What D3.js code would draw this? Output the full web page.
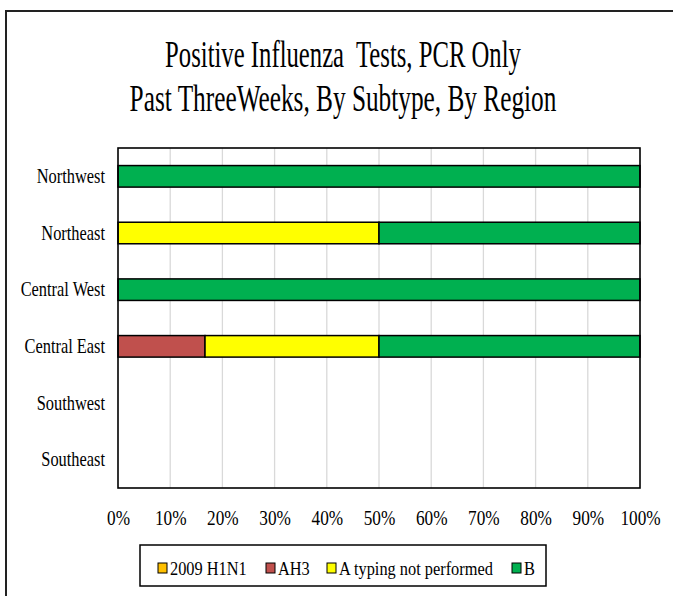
<!DOCTYPE html>
<html>
<head>
<meta charset="utf-8">
<script src="https://cdn.jsdelivr.net/npm/d3@7"></script>
<style>
  body { margin: 0; background: #fff; }
  text { font-family: "Liberation Serif", "Times New Roman", serif; fill: #000; }
</style>
</head>
<body>
<svg id="chart"></svg>
<script>
// data (percent of positive tests)
const regions = ["Northwest", "Northeast", "Central West", "Central East", "Southwest", "Southeast"];
const subtypes = ["2009 H1N1", "AH3", "A typing not performed", "B"];
const colors = ["#FFC000", "#C0504D", "#FFFF00", "#00B050"];
const h1n1 = [0, 0, 0, 0, 0, 0];
const ah3 = [0, 0, 0, 0.1667, 0, 0];
const aNotTyped = [0, 0.5, 0, 0.3333, 0, 0];
const fluB = [1, 0.5, 1, 0.5, 0, 0];
const xTicks = [0, 0.1, 0.2, 0.3, 0.4, 0.5, 0.6, 0.7, 0.8, 0.9, 1];
const titleLines = ["Positive Influenza  Tests, PCR Only", "Past ThreeWeeks, By Subtype, By Region"];

const width = 673, height = 596;
const margin = { top: 148, right: 33, bottom: 108, left: 118 };

const svg = d3.select("#chart").attr("width", width).attr("height", height);

// squeeze text horizontally, the original font is a narrow Times
function condense(sel, k) {
  sel.each(function () {
    const w = this.getComputedTextLength();
    d3.select(this).attr("textLength", w * k).attr("lengthAdjust", "spacingAndGlyphs");
  });
}

// outer frame
svg.append("rect")
  .attr("x", 6).attr("y", 11)
  .attr("width", 700).attr("height", 620)
  .attr("fill", "none").attr("stroke", "#222").attr("stroke-width", 2);

// title, scaled narrow with a transform so the box matches the glyphs
const titleWidths = [356, 427];
svg.append("g")
  .selectAll("text")
  .data(titleLines)
  .join("text")
  .attr("text-anchor", "middle")
  .style("font-size", "38px")
  .style("white-space", "pre")
  .text(d => d)
  .each(function (d, i) {
    const k = titleWidths[i] / this.getComputedTextLength();
    d3.select(this).attr("transform", `translate(343,${67 + i * 44}) scale(${k},1)`);
  });

const x = d3.scaleLinear().domain([0, 1]).range([margin.left, width - margin.right]);
const y = d3.scaleBand().domain(regions).range([margin.top, height - margin.bottom]).paddingInner(0.62).paddingOuter(0.31);

// gridlines
svg.append("g")
  .selectAll("line")
  .data(xTicks.slice(1, -1))
  .join("line")
  .attr("x1", d => x(d)).attr("x2", d => x(d))
  .attr("y1", margin.top).attr("y2", height - margin.bottom)
  .attr("stroke", "#d9d9d9").attr("stroke-width", 1.3);

// stacked bars
const rows = regions.map((r, i) => ({ region: r, "2009 H1N1": h1n1[i], "AH3": ah3[i], "A typing not performed": aNotTyped[i], "B": fluB[i] }));
const stacked = d3.stack().keys(subtypes)(rows);
const color = d3.scaleOrdinal().domain(subtypes).range(colors);

svg.append("g")
  .selectAll("g")
  .data(stacked)
  .join("g")
  .attr("fill", d => color(d.key))
  .selectAll("rect")
  .data(d => d.filter(s => s[1] - s[0] > 0))
  .join("rect")
  .attr("x", d => x(d[0]))
  .attr("width", d => x(d[1]) - x(d[0]))
  .attr("y", d => y(d.data.region))
  .attr("height", y.bandwidth())
  .attr("stroke", "#000").attr("stroke-width", 1.5);

// plot border
svg.append("rect")
  .attr("x", margin.left).attr("y", margin.top)
  .attr("width", x(1) - x(0)).attr("height", height - margin.bottom - margin.top)
  .attr("fill", "none").attr("stroke", "#000").attr("stroke-width", 1.6);

// axes
const xAxis = svg.append("g")
  .attr("transform", `translate(0,${height - margin.bottom})`)
  .call(d3.axisBottom(x).tickValues(xTicks).tickFormat(d3.format(".0%")).tickSize(0).tickPadding(22));
xAxis.select(".domain").remove();
xAxis.selectAll("text").style("font-size", "21px").style("font-family", "Liberation Serif");
condense(xAxis.selectAll("text"), 0.82);

const yAxis = svg.append("g")
  .attr("transform", `translate(${margin.left},0)`)
  .call(d3.axisLeft(y).tickSize(0).tickPadding(13));
yAxis.select(".domain").remove();
yAxis.selectAll("text").style("font-size", "21px").style("font-family", "Liberation Serif");
condense(yAxis.selectAll("text"), 0.78);

// legend
const legend = svg.append("g");
legend.append("rect")
  .attr("x", 140).attr("y", 545).attr("width", 406).attr("height", 41)
  .attr("fill", "#fff").attr("stroke", "#000").attr("stroke-width", 1.5);
const legendX = [158, 266, 327, 512];
const items = legend.selectAll("g.item")
  .data(subtypes)
  .join("g")
  .attr("class", "item")
  .attr("transform", (d, i) => `translate(${legendX[i]},563)`);
items.append("rect")
  .attr("width", 9).attr("height", 10)
  .attr("fill", d => color(d)).attr("stroke", "#000").attr("stroke-width", 1);
items.append("text")
  .attr("x", 12).attr("y", 12)
  .style("font-size", "19px")
  .text(d => d);
condense(items.selectAll("text"), 0.86);
</script>
</body>
</html>
